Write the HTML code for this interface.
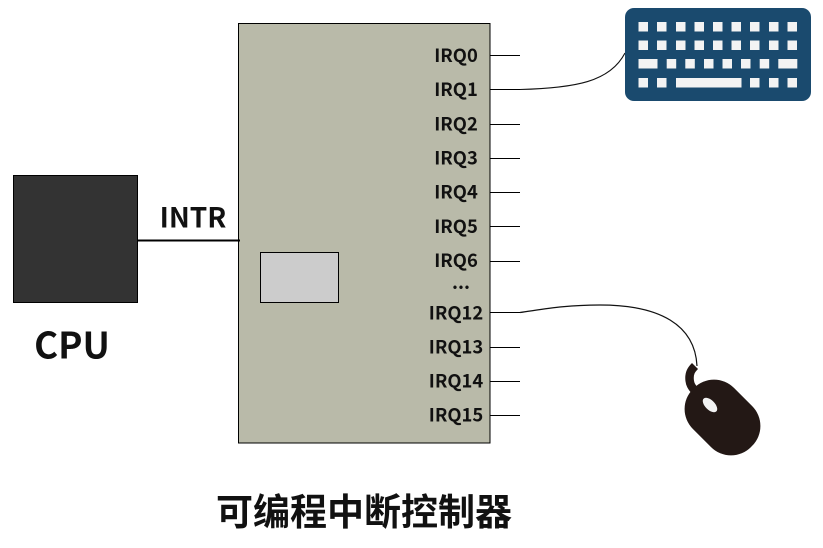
<!DOCTYPE html>
<html>
<head>
<meta charset="utf-8">
<style>
html,body{margin:0;padding:0;background:#fff;}
svg{display:block;}
text{font-family:"Liberation Sans","Noto Sans CJK SC",sans-serif;font-weight:700;fill:#111;}
.cjk{font-family:"Noto Sans CJK SC","Liberation Sans",sans-serif;}
.irq text{font-family:"Noto Sans CJK SC","Liberation Sans",sans-serif;font-size:18.4px;text-anchor:middle;}
.k rect{fill:#f3f3f3;}
</style>
</head>
<body>
<svg width="823" height="548" viewBox="0 0 823 548" xmlns="http://www.w3.org/2000/svg">
<rect x="0" y="0" width="823" height="548" fill="#fff"/>
<!-- CPU -->
<rect x="13.5" y="175.5" width="124" height="127" fill="#333333" stroke="#000" stroke-width="1"/>
<text class="cjk" x="72" y="358.5" font-size="36.6" text-anchor="middle">CPU</text>
<!-- controller -->
<rect x="238.5" y="23.5" width="251.5" height="419.5" fill="#b9baa9" stroke="#000" stroke-width="1"/>
<rect x="260.5" y="252.5" width="78" height="50" fill="#cccccc" stroke="#000" stroke-width="1"/>
<line x1="137" y1="240.5" x2="240" y2="240.5" stroke="#000" stroke-width="2"/>
<text class="cjk" x="193" y="227.5" font-size="28" text-anchor="middle">INTR</text>
<g class="irq">
<text x="456" y="62">IRQ0</text>
<text x="456" y="96">IRQ1</text>
<text x="456" y="130.500">IRQ2</text>
<text x="456" y="164.500">IRQ3</text>
<text x="456" y="198.500">IRQ4</text>
<text x="456" y="233">IRQ5</text>
<text x="456" y="267">IRQ6</text>
<text x="461" y="289">...</text>
<text x="456" y="319.500">IRQ12</text>
<text x="456" y="353.500">IRQ13</text>
<text x="456" y="387.500">IRQ14</text>
<text x="456" y="421.500">IRQ15</text>
</g>
<g stroke="#000" stroke-width="1">
<line x1="490" y1="55.5" x2="520" y2="55.5"/>
<line x1="490" y1="89.5" x2="520" y2="89.5"/>
<line x1="490" y1="124.5" x2="520" y2="124.5"/>
<line x1="490" y1="158.5" x2="520" y2="158.5"/>
<line x1="490" y1="192.5" x2="520" y2="192.5"/>
<line x1="490" y1="226.5" x2="520" y2="226.5"/>
<line x1="490" y1="261.5" x2="520" y2="261.5"/>
<line x1="490" y1="312.5" x2="520" y2="312.5"/>
<line x1="490" y1="347.5" x2="520" y2="347.5"/>
<line x1="490" y1="381.5" x2="520" y2="381.5"/>
<line x1="490" y1="415.5" x2="520" y2="415.5"/>
</g>
<!-- wires -->
<path d="M520 89.5 C575 88 610 82 625 53" fill="none" stroke="#111" stroke-width="1.1"/>
<path d="M520 312.5 C545 309 565 305 600 305 C660 305 695 325 697 366" fill="none" stroke="#111" stroke-width="1.2"/>
<!-- keyboard -->
<rect x="625" y="8" width="186" height="93" rx="9" ry="9" fill="#1a4a6e"/>
<g class="k">
<rect x="638.500" y="22" width="9.500" height="9.500"/><rect x="657" y="22" width="9.500" height="9.500"/><rect x="676" y="22" width="9.500" height="9.500"/><rect x="694.500" y="22" width="9.500" height="9.500"/><rect x="713" y="22" width="9.500" height="9.500"/><rect x="731.500" y="22" width="9.500" height="9.500"/><rect x="750" y="22" width="9.500" height="9.500"/><rect x="769" y="22" width="9.500" height="9.500"/><rect x="787.500" y="22" width="9.500" height="9.500"/>
<rect x="638.500" y="40.500" width="9.500" height="9.500"/><rect x="657" y="40.500" width="9.500" height="9.500"/><rect x="676" y="40.500" width="9.500" height="9.500"/><rect x="694.500" y="40.500" width="9.500" height="9.500"/><rect x="713" y="40.500" width="9.500" height="9.500"/><rect x="731.500" y="40.500" width="9.500" height="9.500"/><rect x="750" y="40.500" width="9.500" height="9.500"/><rect x="769" y="40.500" width="9.500" height="9.500"/><rect x="787.500" y="40.500" width="9.500" height="9.500"/>
<rect x="638.500" y="59" width="19" height="9.500"/><rect x="666.700" y="59" width="9.500" height="9.500"/><rect x="685.300" y="59" width="9.500" height="9.500"/><rect x="704" y="59" width="9.500" height="9.500"/><rect x="722.500" y="59" width="9.500" height="9.500"/><rect x="741" y="59" width="9.500" height="9.500"/><rect x="759.700" y="59" width="9.500" height="9.500"/><rect x="778.300" y="59" width="19" height="9.500"/>
<rect x="638.500" y="78" width="9.500" height="9.500"/><rect x="657" y="78" width="9.500" height="9.500"/><rect x="676" y="78" width="65.500" height="9.500"/><rect x="750" y="78" width="9.500" height="9.500"/><rect x="769" y="78" width="9.500" height="9.500"/><rect x="787.500" y="78" width="9.500" height="9.500"/>
</g>
<!-- mouse -->
<path d="M695 366 C691 370 689.500 373 689.500 378 C689.500 384 691.500 387 696 392" fill="none" stroke="#231815" stroke-width="8.500"/>
<rect x="693.500" y="376.500" width="58" height="82" rx="28" ry="28" fill="#231815" transform="rotate(-45 722.500 417.500)"/>
<ellipse cx="710" cy="405" rx="9" ry="4.800" fill="#f2f2f2" transform="rotate(45 710 405)"/>
<!-- title -->
<text class="cjk" x="364" y="525" font-size="37" text-anchor="middle">可编程中断控制器</text>
</svg>
</body>
</html>
